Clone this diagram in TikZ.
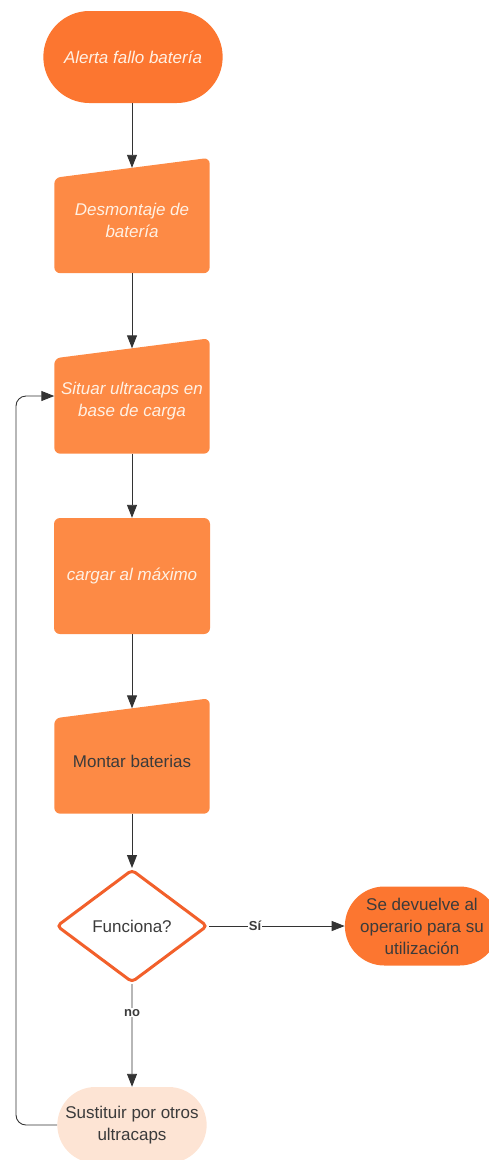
\documentclass[tikz,border=0pt]{standalone}
\usepackage{fontspec}
\setmainfont{Liberation Sans}
\usetikzlibrary{shapes.geometric,shapes.misc,arrows.meta,backgrounds}
\definecolor{alertfill}{HTML}{FC7630}
\definecolor{inputfill}{HTML}{FD8A45}
\definecolor{lighttext}{HTML}{FFF1E4}
\definecolor{darktext}{HTML}{3B3B3B}
\definecolor{decisionline}{HTML}{F2602B}
\definecolor{peachfill}{HTML}{FDE4D4}
\definecolor{wire}{HTML}{333333}

\begin{document}
\begin{tikzpicture}[x=1pt,y=-1pt,
    every node/.style={font=\fontsize{17}{22}\selectfont,align=center},
    terminal/.style={rounded rectangle,fill=alertfill,text=lighttext,font=\fontsize{17}{22}\selectfont\itshape},
    inputbox/.style={rectangle,minimum width=155pt,minimum height=105pt,inner sep=0pt},
    process/.style={rectangle,fill=inputfill,rounded corners=6pt,minimum width=156pt,minimum height=116pt,text=lighttext,font=\fontsize{17}{22}\selectfont\itshape},
    decision/.style={diamond,draw=decisionline,line width=3pt,rounded corners=4pt,fill=white,aspect=1.34,minimum width=151pt,minimum height=113pt,inner sep=0pt,text=darktext},
    arrow/.style={draw=wire,line width=0.9pt,-{Triangle[length=13pt,width=10pt]}},
    lbl/.style={fill=white,inner sep=1pt,text=darktext,font=\fontsize{13}{15}\selectfont\bfseries}]
  \useasboundingbox (0,0) rectangle (488,1160);

  %% main column
  \node[terminal,minimum width=186pt,minimum height=92pt] (start) at (133,57) {Alerta fallo batería};
  \node[inputbox,text=lighttext,font=\fontsize{17}{22}\selectfont\itshape] (desm) at (132,220.5) {Desmontaje de\\batería};
  \node[inputbox,text=lighttext,font=\fontsize{17}{22}\selectfont\itshape] (situar) at (132,401) {Situar ultracaps en\\base de carga};
  \node[process] (cargar) at (132,576) {cargar al máximo};
  \node[inputbox,text=darktext] (montar) at (132,761) {Montar baterias};
  \node[decision] (func) at (132,926) {Funciona?};
  \node[rounded rectangle,fill=alertfill,text=darktext,minimum width=152pt,minimum height=79pt] (devuelve) at (422,926) {Se devuelve al\\operario para su\\utilización};
  \node[rounded rectangle,fill=peachfill,text=darktext,minimum width=156pt,minimum height=76pt] (sust) at (132,1125) {Sustituir por otros\\ultracaps};

  %% slanted tops of the input steps
  \begin{scope}[on background layer]
    \foreach \n in {desm,situar,montar}
      \fill[inputfill,rounded corners=6pt] (\n.south west) -- ([yshift=-10pt]\n.north west) -- ([yshift=10pt]\n.north east) -- (\n.south east) -- cycle;
  \end{scope}

  \draw[arrow] (start.south -| desm.north) -- (desm);
  \draw[arrow] (desm) -- (situar);
  \draw[arrow] (situar) -- (cargar);
  \draw[arrow] (cargar) -- (montar);
  \draw[arrow] (montar) -- (func);
  \draw[arrow] (func) -- node[lbl,pos=0.34] {Sí} (devuelve);
  \draw[arrow] (func) -- node[lbl,pos=0.28] {no} (sust);
  %% back to the charging step
  \coordinate (loop) at (16,1125);
  \draw[arrow,rounded corners=10pt] (sust.west) -- (loop) |- ([yshift=5pt]situar.west);
\end{tikzpicture}
\end{document}
